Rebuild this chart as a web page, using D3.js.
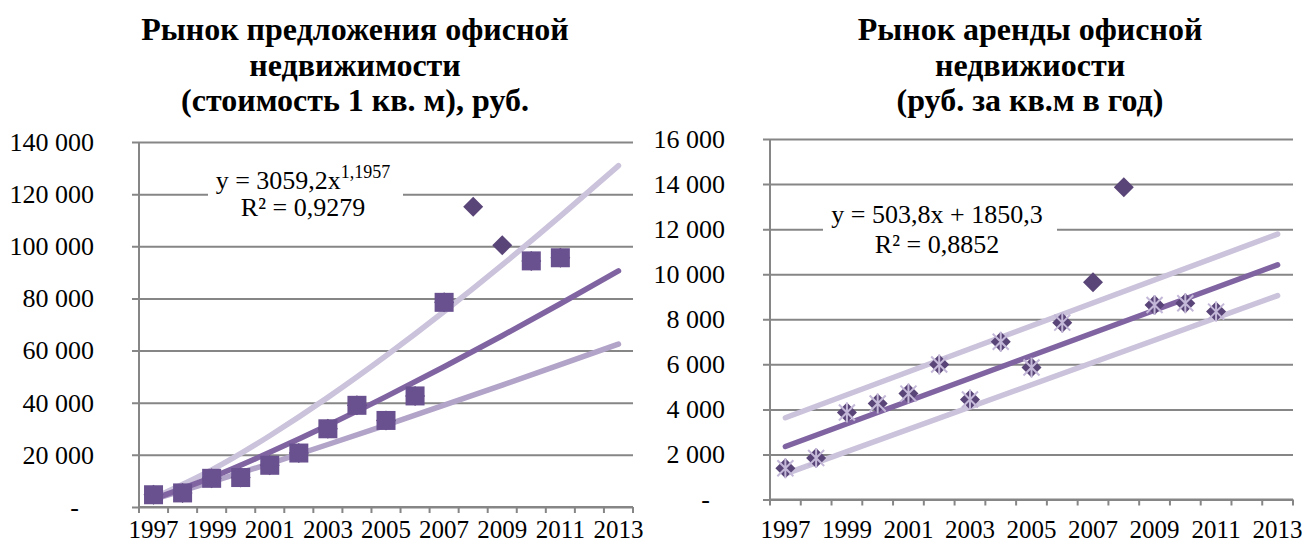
<!DOCTYPE html>
<html>
<head>
<meta charset="utf-8">
<script src="https://cdnjs.cloudflare.com/ajax/libs/d3/7.8.5/d3.min.js"></script>
<style>
body { margin: 0; background: #fff; }
svg { display: block; font-family: "Liberation Serif", "Times New Roman", serif; }
.grid line { stroke: #868686; stroke-width: 2; }
.ylab text, .xlab text { fill: #000; }
</style>
</head>
<body>
<div id="canvas"></div>
<script>
// categories
var years = ["1997","1998","1999","2000","2001","2002","2003","2004","2005","2006","2007","2008","2009","2010","2011","2012","2013"];
var yearLabels = ["1997","1999","2001","2003","2005","2007","2009","2011","2013"];
var dataYears = ["1997","1998","1999","2000","2001","2002","2003","2004","2005","2006","2007","2008","2009","2010","2011"];

// left: price per sq.m, rub
var saleValues = [4700, 5400, 11000, 11300, 16000, 20700, 30000, 39000, 33200, 42600, 78500, 115200, 100400, 94400, 95600];
var saleOnlyDiamond = ["2008", "2009"];
var saleTicks = [0, 20000, 40000, 60000, 80000, 100000, 120000, 140000];
var trendYears = ["1997","1999","2001","2003","2005","2007","2009","2011","2013"];
var saleTrendMid = [3059, 11378, 20959, 31339, 42327, 53805, 65694, 77969, 90540];
var saleTrendHigh = [3484, 14217, 27340, 42050, 58000, 75000, 92880, 111570, 130930];
var saleTrendLow = [2930, 9600, 16660, 23970, 31440, 39050, 46760, 54590, 62500];

// right: rent, rub per sq.m per year
var rentValues = [1390, 1840, 3860, 4260, 4700, 5990, 4440, 7000, 5860, 7850, 9640, 13860, 8630, 8710, 8340];
var rentOnlyDiamond = ["2007", "2008"];
var rentTicks = [0, 2000, 4000, 6000, 8000, 10000, 12000, 14000, 16000];
var rentTrendYears = ["1997", "2013"];
var rentTrendMid = [2354, 10415];
var rentTrendHigh = [3630, 11780];
var rentTrendLow = [1140, 9050];

var svg = d3.select("#canvas").append("svg").attr("width", 1304).attr("height", 544);
var serif = "'Liberation Serif', 'Times New Roman', serif";

var fmt = function(d) { return d === 0 ? "-" : d3.format(",")(d).replace(/,/g, " "); };

function drawChart(opt) {
	var x = d3.scaleBand().domain(years).range([opt.left, opt.right]);
	var y = d3.scaleLinear().domain([0, opt.max]).range([opt.bottom, opt.top]);
	var cx = function(d) { return x(d) + x.bandwidth() / 2; };

	// gridlines + y labels
	var ga = svg.append("g").attr("class", "grid ylab")
		.attr("transform", "translate(" + opt.left + ",0)")
		.call(d3.axisLeft(y).tickValues(opt.ticks).tickSizeInner(-(opt.right - opt.left)).tickSizeOuter(0).tickFormat(fmt));
	ga.attr("font-family", serif).attr("font-size", 26);
	ga.select(".domain").remove();
	ga.selectAll("line").attr("x1", -7);
	ga.selectAll("text").attr("x", function(d) { return d === 0 ? -60 : -45; });

	// axis lines
	svg.append("line").attr("x1", opt.left).attr("x2", opt.left).attr("y1", opt.top).attr("y2", opt.bottom + 6)
		.attr("stroke", "#868686").attr("stroke-width", 2);
	svg.append("line").attr("x1", opt.left).attr("x2", opt.right).attr("y1", opt.bottom).attr("y2", opt.bottom)
		.attr("stroke", "#868686").attr("stroke-width", 2);
	svg.selectAll(null).data(years.slice(1).concat(["end"])).enter().append("line")
		.attr("x1", function(d) { return d === "end" ? opt.right : x(d); })
		.attr("x2", function(d) { return d === "end" ? opt.right : x(d); })
		.attr("y1", opt.bottom).attr("y2", opt.bottom + 6)
		.attr("stroke", "#868686").attr("stroke-width", 2);

	// x labels
	var xa = svg.append("g").attr("class", "xlab")
		.attr("transform", "translate(0," + opt.bottom + ")")
		.call(d3.axisBottom(x).tickValues(yearLabels).tickSize(0));
	xa.attr("font-family", serif).attr("font-size", 25);
	xa.select(".domain").remove();
	xa.selectAll("text").attr("dy", null).attr("y", 538 - opt.bottom);

	// equation label
	svg.append("rect").attr("x", opt.eq.x0).attr("y", opt.eq.y0).attr("width", opt.eq.x1 - opt.eq.x0)
		.attr("height", opt.eq.y1 - opt.eq.y0).attr("fill", "#fff");
	var t1 = svg.append("text").attr("x", opt.eq.cx).attr("y", opt.eq.b1).attr("text-anchor", "middle")
		.attr("font-family", serif).attr("font-size", 26).text(opt.eq.line1);
	if (opt.eq.sup) {
		t1.append("tspan").attr("dy", -11).attr("font-size", 18).text(opt.eq.sup);
	}
	svg.append("text").attr("x", opt.eq.cx).attr("y", opt.eq.b2).attr("text-anchor", "middle")
		.attr("font-family", serif).attr("font-size", 26).text(opt.eq.line2);

	// trend lines
	var line = d3.line().x(function(d) { return cx(d[0]); }).y(function(d) { return y(d[1]); })
		.curve(opt.tYears.length > 2 ? d3.curveNatural : d3.curveLinear);
	var trends = [[opt.high, opt.highColor], [opt.low, opt.lowColor], [opt.mid, "#8064a2"]];
	trends.forEach(function(t) {
		svg.append("path").datum(opt.tYears.map(function(yr, i) { return [yr, t[0][i]]; }))
			.attr("d", line).attr("fill", "none").attr("stroke", t[1])
			.attr("stroke-width", 5.5).attr("stroke-linecap", "round");
	});

	// markers
	var pts = dataYears.map(function(yr, i) { return { yr: yr, v: opt.values[i] }; });
	svg.selectAll(null).data(pts).enter().append("path")
		.attr("transform", function(d) { return "translate(" + cx(d.yr) + "," + y(d.v) + ")"; })
		.attr("d", "M0,-10L10,0L0,10L-10,0Z").attr("fill", "#5a4578");
	var rest = pts.filter(function(d) { return opt.only.indexOf(d.yr) < 0; });
	if (opt.second === "square") {
		svg.selectAll(null).data(rest).enter().append("rect")
			.attr("x", function(d) { return cx(d.yr) - 9.5; }).attr("y", function(d) { return y(d.v) - 9.5; })
			.attr("width", 19).attr("height", 19).attr("fill", "#69518f");
	} else {
		svg.selectAll(null).data(rest).enter().append("path")
			.attr("transform", function(d) { return "translate(" + cx(d.yr) + "," + y(d.v) + ")"; })
			.attr("d", "M-8,-8L8,8M-8,8L8,-8M0,-10L0,10")
			.attr("fill", "none").attr("stroke", "#c4b8d8").attr("stroke-width", 2);
	}

	// title
	var tt = svg.append("text").attr("text-anchor", "middle").attr("font-family", serif)
		.attr("font-weight", "bold").attr("font-size", 32);
	opt.title.forEach(function(s, i) {
		tt.append("tspan").attr("x", opt.titleX).attr("y", 40 + i * 35.5).text(s);
	});
}

drawChart({
	left: 139, right: 633, top: 142, bottom: 507, max: 140000, ticks: saleTicks,
	values: saleValues, only: saleOnlyDiamond, second: "square",
	tYears: trendYears, mid: saleTrendMid, high: saleTrendHigh, low: saleTrendLow,
	highColor: "#cbc2db", lowColor: "#b2a3c8",
	eq: { x0: 208, x1: 403, y0: 160, y1: 225, cx: 303, b1: 189, b2: 216,
		line1: "y = 3059,2x", sup: "1,1957", line2: "R² = 0,9279" },
	title: ["Рынок предложения офисной", "недвижимости", "(стоимость 1 кв. м), руб."], titleX: 355
});

drawChart({
	left: 770, right: 1293, top: 139, bottom: 499.5, max: 16000, ticks: rentTicks,
	values: rentValues, only: rentOnlyDiamond, second: "star",
	tYears: rentTrendYears, mid: rentTrendMid, high: rentTrendHigh, low: rentTrendLow,
	highColor: "#cbc2db", lowColor: "#cbc2db",
	eq: { x0: 823, x1: 1057, y0: 194, y1: 262, cx: 937, b1: 223, b2: 253,
		line1: "y = 503,8x + 1850,3", line2: "R² = 0,8852" },
	title: ["Рынок аренды офисной", "недвижиости", "(руб. за кв.м в год)"], titleX: 1030
});
</script>
</body>
</html>
